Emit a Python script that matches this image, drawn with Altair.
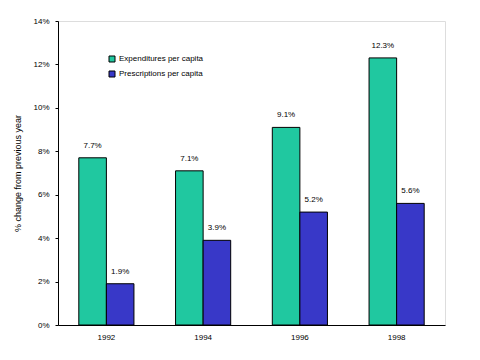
import altair as alt
import pandas as pd

years = ["1992", "1994", "1996", "1998"]
series = ["Expenditures per capita", "Prescriptions per capita"]
expenditures = [7.7, 7.1, 9.1, 12.3]
prescriptions = [1.9, 3.9, 5.2, 5.6]
colors = ["#20c8a0", "#3838c8"]

rows = []
for i, y in enumerate(years):
    rows.append({"year": y, "series": series[0], "value": expenditures[i] / 100, "order": 0})
    rows.append({"year": y, "series": series[1], "value": prescriptions[i] / 100, "order": 1})
df = pd.DataFrame(rows)
df["label"] = df["value"].map(lambda v: f"{v*100:.1f}%")

font = "Liberation Sans"

x = alt.X("year:N", title=None,
          scale=alt.Scale(paddingInner=0.43, paddingOuter=0.215),
          axis=alt.Axis(labelAngle=0, ticks=False, domainColor="black", labelPadding=8,
                        labelFont=font, labelFontSize=8, labelColor="black"))
xo = alt.XOffset("series:N", sort=series, scale=alt.Scale(paddingInner=0, paddingOuter=0))
y = alt.Y("value:Q", title="% change from previous year",
          scale=alt.Scale(domain=[0, 0.14], nice=False),
          axis=alt.Axis(format=".0%", values=[0, 0.02, 0.04, 0.06, 0.08, 0.1, 0.12, 0.14],
                        grid=False, domainColor="black", tickColor="black", tickSize=3,
                        labelFont=font, labelFontSize=8, labelColor="black", labelPadding=6,
                        titleFont=font, titleFontSize=9, titleFontWeight="normal",
                        titleColor="black", titlePadding=10))

bars = alt.Chart(df).mark_bar(stroke="black", strokeWidth=1).encode(
    x=x, xOffset=xo, y=y,
    color=alt.Color("series:N", sort=series,
                    scale=alt.Scale(domain=series, range=colors),
                    legend=alt.Legend(title=None, orient="none", legendX=50, legendY=34,
                                      symbolType="square", symbolSize=36,
                                      symbolStrokeColor="black", symbolStrokeWidth=1,
                                      labelFont=font, labelFontSize=8, labelColor="black",
                                      rowPadding=5, labelOffset=3)),
)

labels = alt.Chart(df).mark_text(baseline="bottom", dy=-8, font=font, fontSize=8,
                                 color="black").encode(
    x=x, xOffset=xo, y=y, text="label:N")

chart = (bars + labels).properties(
    width=387, height=304,
    autosize=alt.AutoSizeParams(type="none"),
    padding={"left": 50, "top": 13, "right": 20, "bottom": 30},
).configure_view(stroke=None).configure(background="white")

chart.save("out.html", embed_options={"renderer": "svg", "actions": False})
